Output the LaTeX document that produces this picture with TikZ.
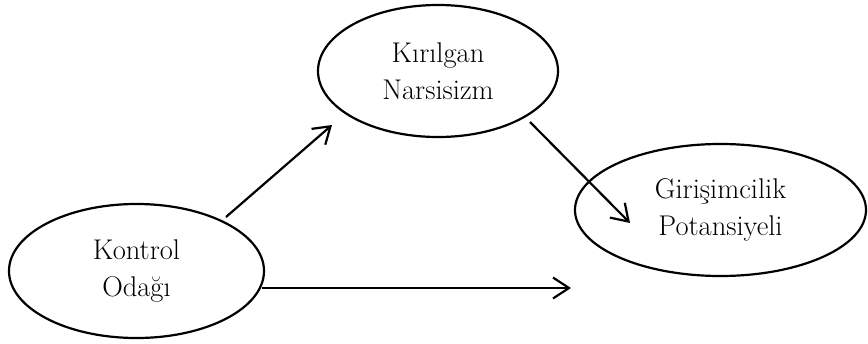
\documentclass[tikz,border=0pt]{standalone}
\usepackage{fontspec}
\usetikzlibrary{shapes.geometric,arrows.meta,calc}
\begin{document}
\begin{tikzpicture}[x=1pt,y=-1pt,
  oval/.style={ellipse,draw,line width=2.2pt,inner sep=0pt,align=center,
    font=\fontsize{28.5}{37}\selectfont},
  conn/.style={line width=2.2pt,-{Straight Barb[length=16pt,width=21pt,line width=2.2pt]}}]
\useasboundingbox (0,0) rectangle (868,343);
\node[oval,minimum width=240pt,minimum height=132pt] (kn) at (438,71) {Kırılgan\\Narsisizm};
\node[oval,minimum width=291pt,minimum height=132pt] (gp) at (720.5,210) {Girişimcilik\\Potansiyeli};
\node[oval,minimum width=255pt,minimum height=134pt] (ko) at (136.5,271) {Kontrol\\Odağı};
\coordinate (a1s) at ($(ko.center)+(89.5,-54)$);
\coordinate (a1e) at ($(kn.center)+(-106,54)$);
\coordinate (a2s) at ($(kn.center)+(92,51)$);
\coordinate (a2e) at ($(gp.center)+(-90.5,13)$);
\coordinate (a3s) at ($(ko.center)+(125.5,17)$);
\coordinate (a3e) at ($(gp.center)+(-149.5,78)$);
\draw[conn] (a1s) -- (a1e);
\draw[conn] (a2s) -- (a2e);
\draw[conn] (a3s) -- (a3e);
\end{tikzpicture}
\end{document}
